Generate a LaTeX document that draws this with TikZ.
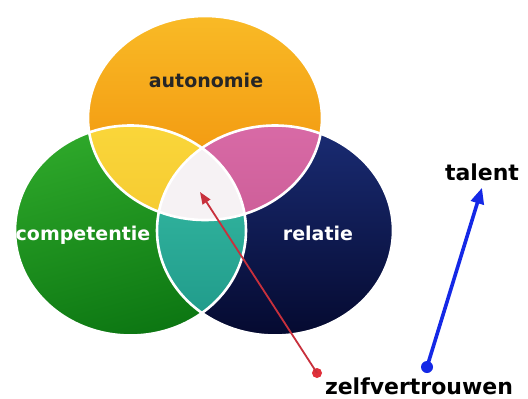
\documentclass[tikz,border=0pt]{standalone}
\usepackage{fontspec}
\setmainfont{DejaVu Sans}
\usetikzlibrary{arrows.meta,shapes.geometric}
\definecolor{orangeA}{HTML}{F9BA26}
\definecolor{orangeB}{HTML}{F08C08}
\definecolor{greenA}{HTML}{2EA82A}
\definecolor{greenB}{HTML}{0C7612}
\definecolor{blueA}{HTML}{1A2C74}
\definecolor{blueB}{HTML}{050A30}
\definecolor{yellowA}{HTML}{FAD63A}
\definecolor{yellowB}{HTML}{F0BC26}
\definecolor{pinkA}{HTML}{D86AA6}
\definecolor{pinkB}{HTML}{C05088}
\definecolor{tealA}{HTML}{3AC0A8}
\definecolor{tealB}{HTML}{1E9888}
\definecolor{centreW}{HTML}{F6F2F4}
\definecolor{arrowRed}{HTML}{E0303A}
\definecolor{lineRed}{HTML}{C8303C}
\definecolor{arrowBlue}{HTML}{1428E6}
\tikzset{
  lbl/.style={font=\bfseries\fontsize{19}{19}\selectfont, inner sep=0pt},
  bigl/.style={font=\bfseries\fontsize{22}{22}\selectfont, inner sep=0pt, text=black},
  rim/.style={draw=white, line width=2.6pt},
}
\newcommand\pathO{(205,118) ellipse [x radius=117, y radius=102]}
\newcommand\pathG{(130.5,230.5) ellipse [x radius=115.5, y radius=105]}
\newcommand\pathB{(275,230.5) ellipse [x radius=118, y radius=105]}
\begin{document}
\begin{tikzpicture}[x=1pt,y=-1pt]
\useasboundingbox (0,0) rectangle (528,399);
\fill[white] (0,0) rectangle (528,399);
% base fills
\shade[top color=orangeA, bottom color=orangeB] \pathO;
\shade[top color=greenA, bottom color=greenB, shading angle=15] \pathG;
\shade[top color=blueA, bottom color=blueB] \pathB;
% yellow: orange & green
\begin{scope}
  \clip \pathO;
  \shade[top color=yellowA, bottom color=yellowB] \pathG;
\end{scope}
% pink: orange & blue
\begin{scope}
  \clip \pathO;
  \shade[top color=pinkA, bottom color=pinkB] \pathB;
\end{scope}
% teal: green & blue
\begin{scope}
  \clip \pathG;
  \shade[top color=tealA, bottom color=tealB] \pathB;
\end{scope}
% centre: all three
\begin{scope}
  \clip \pathO;
  \clip \pathG;
  \fill[centreW] \pathB;
\end{scope}
% white rims
\draw[rim] \pathO;
\draw[rim] \pathG;
\draw[rim] \pathB;
% labels
\node[lbl, text=black!85] (auto) at (206,80) {autonomie};
\node[lbl, text=white] (comp) at (83,235) {competentie};
\node[lbl, text=white] (rel) at (318,233) {relatie};
\node[bigl] (talent) at (482,172) {talent};
\node[bigl] (zelf) at (419,386) {zelfvertrouwen};
% arrows
\coordinate (centre) at (200,192);
\node[circle, fill=arrowRed, inner sep=0pt, minimum size=10pt] (rdot) at (317,373) {};
\node[circle, fill=arrowBlue, inner sep=0pt, minimum size=12pt] (bdot) at (427,367) {};
\draw[lineRed, line width=1.8pt, -{Triangle[length=12pt,width=9pt]}] (rdot.center) -- (centre);
\draw[arrowBlue, line width=3.6pt, -{Triangle[length=16pt,width=13pt]}] (bdot.center) -- ([yshift=-7pt]talent.south);
\end{tikzpicture}
\end{document}
